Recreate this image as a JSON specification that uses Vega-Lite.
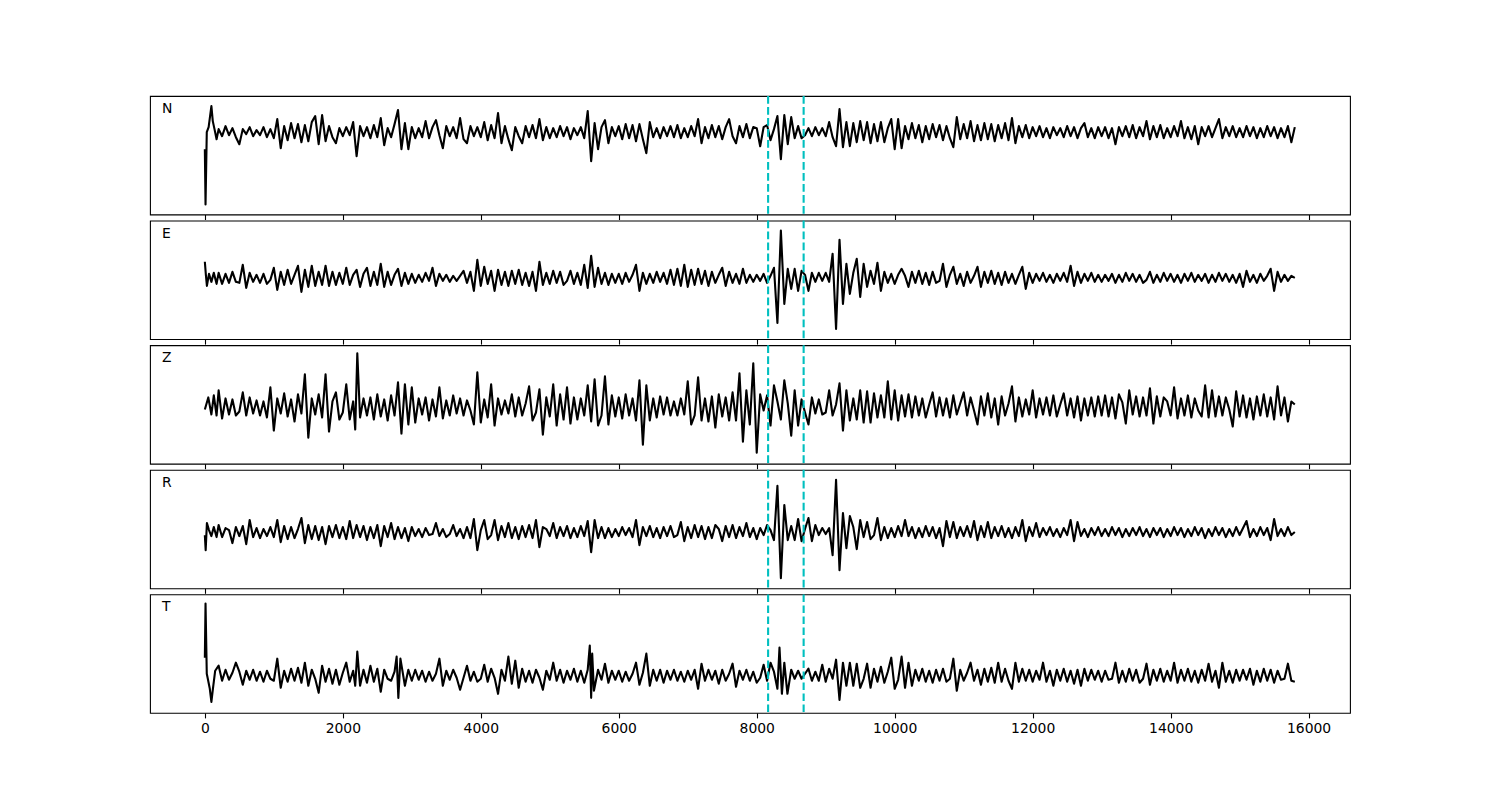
{
"$schema":"https://vega.github.io/schema/vega-lite/v6.json",
"padding":{"left":149,"top":94,"right":10,"bottom":10},
"bounds":"flush",
"spacing":5.6,
"config":{"view":{"stroke":"black","strokeWidth":1.1},"font":"DejaVu Sans","title":{"anchor":"start","frame":"group","orient":"top","offset":-21,"dx":12,"fontSize":13.9,"fontWeight":"normal","font":"DejaVu Sans","color":"black","baseline":"alphabetic"}},
"datasets":{
"picks":[{"t":8165},{"t":8680}],
"N":[{"t":0,"v":-17},{"t":10,"v":-72},{"t":28,"v":0},{"t":55,"v":5},{"t":95,"v":26},{"t":115,"v":11},{"t":140,"v":3},{"t":170,"v":-7},{"t":200,"v":3},{"t":250,"v":-4},{"t":300,"v":6},{"t":350,"v":-3},{"t":400,"v":4},{"t":450,"v":-5},{"t":500,"v":-12},{"t":550,"v":3},{"t":600,"v":-2},{"t":650,"v":5},{"t":700,"v":-4},{"t":750,"v":2},{"t":800,"v":-3},{"t":850,"v":5},{"t":900,"v":-5},{"t":950,"v":3},
{"t":1000,"v":-6},{"t":1050,"v":13},{"t":1100,"v":-16},{"t":1150,"v":6},{"t":1200,"v":-8},{"t":1250,"v":9},{"t":1300,"v":-6},{"t":1350,"v":8},{"t":1400,"v":-10},{"t":1450,"v":7},{"t":1500,"v":-9},{"t":1550,"v":10},{"t":1600,"v":16},{"t":1650,"v":-12},{"t":1700,"v":17},{"t":1750,"v":-9},{"t":1800,"v":6},{"t":1850,"v":-5},{"t":1900,"v":-11},{"t":1950,"v":4},
{"t":2000,"v":-4},{"t":2050,"v":5},{"t":2100,"v":-3},{"t":2150,"v":10},{"t":2200,"v":-24},{"t":2250,"v":6},{"t":2300,"v":-4},{"t":2350,"v":5},{"t":2400,"v":-6},{"t":2450,"v":7},{"t":2500,"v":-5},{"t":2550,"v":14},{"t":2600,"v":-13},{"t":2650,"v":4},{"t":2700,"v":-5},{"t":2750,"v":8},{"t":2800,"v":22},{"t":2850,"v":-17},{"t":2900,"v":9},{"t":2950,"v":-17},
{"t":3000,"v":5},{"t":3050,"v":-6},{"t":3100,"v":4},{"t":3150,"v":-5},{"t":3200,"v":11},{"t":3250,"v":-6},{"t":3300,"v":5},{"t":3350,"v":12},{"t":3400,"v":-3},{"t":3450,"v":-16},{"t":3500,"v":6},{"t":3550,"v":-4},{"t":3600,"v":5},{"t":3650,"v":-6},{"t":3700,"v":14},{"t":3750,"v":-7},{"t":3800,"v":-11},{"t":3850,"v":6},{"t":3900,"v":-4},{"t":3950,"v":5},
{"t":4000,"v":-5},{"t":4050,"v":10},{"t":4100,"v":-8},{"t":4150,"v":7},{"t":4200,"v":-6},{"t":4250,"v":19},{"t":4300,"v":-11},{"t":4350,"v":6},{"t":4400,"v":-7},{"t":4450,"v":-18},{"t":4500,"v":5},{"t":4550,"v":-4},{"t":4600,"v":-11},{"t":4650,"v":6},{"t":4700,"v":-5},{"t":4750,"v":7},{"t":4800,"v":-6},{"t":4850,"v":13},{"t":4900,"v":-8},{"t":4950,"v":5},
{"t":5000,"v":-6},{"t":5050,"v":4},{"t":5100,"v":-5},{"t":5150,"v":6},{"t":5200,"v":-4},{"t":5250,"v":5},{"t":5300,"v":-7},{"t":5350,"v":4},{"t":5400,"v":-3},{"t":5450,"v":5},{"t":5500,"v":-6},{"t":5550,"v":21},{"t":5600,"v":-29},{"t":5650,"v":9},{"t":5700,"v":-17},{"t":5750,"v":5},{"t":5800,"v":12},{"t":5850,"v":-11},{"t":5900,"v":5},{"t":5950,"v":-4},
{"t":6000,"v":6},{"t":6050,"v":-7},{"t":6100,"v":8},{"t":6150,"v":-6},{"t":6200,"v":7},{"t":6250,"v":-9},{"t":6300,"v":8},{"t":6350,"v":-7},{"t":6400,"v":-21},{"t":6450,"v":10},{"t":6500,"v":-5},{"t":6550,"v":4},{"t":6600,"v":-6},{"t":6650,"v":5},{"t":6700,"v":-4},{"t":6750,"v":6},{"t":6800,"v":-5},{"t":6850,"v":7},{"t":6900,"v":-6},{"t":6950,"v":4},
{"t":7000,"v":-5},{"t":7050,"v":6},{"t":7100,"v":-4},{"t":7150,"v":13},{"t":7200,"v":-11},{"t":7250,"v":5},{"t":7300,"v":-6},{"t":7350,"v":7},{"t":7400,"v":-5},{"t":7450,"v":6},{"t":7500,"v":-7},{"t":7550,"v":5},{"t":7600,"v":13},{"t":7650,"v":-4},{"t":7700,"v":-11},{"t":7750,"v":6},{"t":7800,"v":-5},{"t":7850,"v":8},{"t":7900,"v":-6},{"t":7950,"v":5},
{"t":8000,"v":4},{"t":8050,"v":-14},{"t":8100,"v":5},{"t":8150,"v":7},{"t":8200,"v":-8},{"t":8250,"v":3},{"t":8300,"v":16},{"t":8350,"v":-27},{"t":8400,"v":17},{"t":8450,"v":-12},{"t":8500,"v":15},{"t":8550,"v":-6},{"t":8600,"v":6},{"t":8650,"v":-6},{"t":8700,"v":-3},{"t":8750,"v":4},{"t":8800,"v":-4},{"t":8850,"v":5},{"t":8900,"v":-3},{"t":8950,"v":4},
{"t":9000,"v":-4},{"t":9050,"v":10},{"t":9100,"v":-5},{"t":9150,"v":-14},{"t":9200,"v":23},{"t":9250,"v":-15},{"t":9300,"v":10},{"t":9350,"v":-14},{"t":9400,"v":9},{"t":9450,"v":-10},{"t":9500,"v":11},{"t":9550,"v":-8},{"t":9600,"v":10},{"t":9650,"v":-11},{"t":9700,"v":8},{"t":9750,"v":-9},{"t":9800,"v":10},{"t":9850,"v":-10},{"t":9900,"v":4},{"t":9950,"v":13},
{"t":10000,"v":-17},{"t":10050,"v":13},{"t":10100,"v":-16},{"t":10150,"v":6},{"t":10200,"v":-7},{"t":10250,"v":9},{"t":10300,"v":-6},{"t":10350,"v":7},{"t":10400,"v":-10},{"t":10450,"v":6},{"t":10500,"v":-7},{"t":10550,"v":8},{"t":10600,"v":-5},{"t":10650,"v":7},{"t":10700,"v":-8},{"t":10750,"v":6},{"t":10800,"v":-6},{"t":10850,"v":-15},{"t":10900,"v":15},{"t":10950,"v":-7},
{"t":11000,"v":8},{"t":11050,"v":-6},{"t":11100,"v":11},{"t":11150,"v":-9},{"t":11200,"v":7},{"t":11250,"v":-8},{"t":11300,"v":9},{"t":11350,"v":-7},{"t":11400,"v":8},{"t":11450,"v":-9},{"t":11500,"v":7},{"t":11550,"v":-6},{"t":11600,"v":9},{"t":11650,"v":-8},{"t":11700,"v":14},{"t":11750,"v":-11},{"t":11800,"v":6},{"t":11850,"v":-5},{"t":11900,"v":7},{"t":11950,"v":-6},
{"t":12000,"v":5},{"t":12050,"v":-4},{"t":12100,"v":6},{"t":12150,"v":-5},{"t":12200,"v":4},{"t":12250,"v":-6},{"t":12300,"v":5},{"t":12350,"v":-3},{"t":12400,"v":4},{"t":12450,"v":-5},{"t":12500,"v":6},{"t":12550,"v":-4},{"t":12600,"v":5},{"t":12650,"v":-6},{"t":12700,"v":4},{"t":12750,"v":9},{"t":12800,"v":-5},{"t":12850,"v":4},{"t":12900,"v":-6},{"t":12950,"v":5},
{"t":13000,"v":-4},{"t":13050,"v":5},{"t":13100,"v":-6},{"t":13150,"v":4},{"t":13200,"v":-12},{"t":13250,"v":5},{"t":13300,"v":-4},{"t":13350,"v":6},{"t":13400,"v":-5},{"t":13450,"v":7},{"t":13500,"v":-6},{"t":13550,"v":5},{"t":13600,"v":-4},{"t":13650,"v":11},{"t":13700,"v":-7},{"t":13750,"v":6},{"t":13800,"v":-5},{"t":13850,"v":7},{"t":13900,"v":-6},{"t":13950,"v":4},
{"t":14000,"v":-5},{"t":14050,"v":6},{"t":14100,"v":-4},{"t":14150,"v":11},{"t":14200,"v":-6},{"t":14250,"v":5},{"t":14300,"v":-7},{"t":14350,"v":6},{"t":14400,"v":-12},{"t":14450,"v":5},{"t":14500,"v":-4},{"t":14550,"v":6},{"t":14600,"v":-5},{"t":14650,"v":4},{"t":14700,"v":13},{"t":14750,"v":-6},{"t":14800,"v":5},{"t":14850,"v":-4},{"t":14900,"v":6},{"t":14950,"v":-5},
{"t":15000,"v":4},{"t":15050,"v":-5},{"t":15100,"v":6},{"t":15150,"v":-4},{"t":15200,"v":5},{"t":15250,"v":-6},{"t":15300,"v":4},{"t":15350,"v":-5},{"t":15400,"v":6},{"t":15450,"v":-4},{"t":15500,"v":5},{"t":15550,"v":-6},{"t":15600,"v":4},{"t":15650,"v":-5},{"t":15700,"v":6},{"t":15750,"v":-10},{"t":15800,"v":5}],
"E":[{"t":0,"v":16},{"t":15,"v":3},{"t":30,"v":-8},{"t":60,"v":4},{"t":95,"v":-4},{"t":130,"v":5},{"t":170,"v":-6},{"t":200,"v":5},{"t":250,"v":-6},{"t":300,"v":4},{"t":350,"v":-5},{"t":400,"v":6},{"t":450,"v":-4},{"t":500,"v":-5},{"t":550,"v":13},{"t":600,"v":-10},{"t":650,"v":5},{"t":700,"v":-4},{"t":750,"v":3},{"t":800,"v":-5},{"t":850,"v":4},{"t":900,"v":-6},{"t":950,"v":-2},
{"t":1000,"v":10},{"t":1050,"v":-12},{"t":1100,"v":6},{"t":1150,"v":-7},{"t":1200,"v":8},{"t":1250,"v":-6},{"t":1300,"v":3},{"t":1350,"v":12},{"t":1400,"v":-14},{"t":1450,"v":8},{"t":1500,"v":-9},{"t":1550,"v":12},{"t":1600,"v":-8},{"t":1650,"v":6},{"t":1700,"v":-7},{"t":1750,"v":12},{"t":1800,"v":-8},{"t":1850,"v":6},{"t":1900,"v":-7},{"t":1950,"v":5},
{"t":2000,"v":-6},{"t":2050,"v":10},{"t":2100,"v":-7},{"t":2150,"v":3},{"t":2200,"v":8},{"t":2250,"v":-9},{"t":2300,"v":4},{"t":2350,"v":10},{"t":2400,"v":-8},{"t":2450,"v":6},{"t":2500,"v":-7},{"t":2550,"v":14},{"t":2600,"v":-9},{"t":2650,"v":6},{"t":2700,"v":-7},{"t":2750,"v":3},{"t":2800,"v":9},{"t":2850,"v":-8},{"t":2900,"v":5},{"t":2950,"v":-6},
{"t":3000,"v":4},{"t":3050,"v":-5},{"t":3100,"v":3},{"t":3150,"v":-4},{"t":3200,"v":5},{"t":3250,"v":-3},{"t":3300,"v":10},{"t":3350,"v":-8},{"t":3400,"v":4},{"t":3450,"v":-3},{"t":3500,"v":3},{"t":3550,"v":-4},{"t":3600,"v":2},{"t":3650,"v":-3},{"t":3700,"v":2},{"t":3750,"v":7},{"t":3800,"v":-5},{"t":3850,"v":6},{"t":3900,"v":-13},{"t":3950,"v":18},
{"t":4000,"v":-8},{"t":4050,"v":11},{"t":4100,"v":-6},{"t":4150,"v":7},{"t":4200,"v":-13},{"t":4250,"v":8},{"t":4300,"v":-7},{"t":4350,"v":6},{"t":4400,"v":-8},{"t":4450,"v":7},{"t":4500,"v":-6},{"t":4550,"v":8},{"t":4600,"v":-7},{"t":4650,"v":5},{"t":4700,"v":-8},{"t":4750,"v":6},{"t":4800,"v":-13},{"t":4850,"v":16},{"t":4900,"v":-7},{"t":4950,"v":5},
{"t":5000,"v":-6},{"t":5050,"v":7},{"t":5100,"v":-5},{"t":5150,"v":6},{"t":5200,"v":-7},{"t":5250,"v":-3},{"t":5300,"v":7},{"t":5350,"v":-6},{"t":5400,"v":5},{"t":5450,"v":-7},{"t":5500,"v":13},{"t":5550,"v":-10},{"t":5600,"v":22},{"t":5650,"v":-9},{"t":5700,"v":10},{"t":5750,"v":-6},{"t":5800,"v":5},{"t":5850,"v":-7},{"t":5900,"v":4},{"t":5950,"v":-5},
{"t":6000,"v":4},{"t":6050,"v":-6},{"t":6100,"v":5},{"t":6150,"v":-4},{"t":6200,"v":3},{"t":6250,"v":13},{"t":6300,"v":-13},{"t":6350,"v":5},{"t":6400,"v":-6},{"t":6450,"v":4},{"t":6500,"v":-5},{"t":6550,"v":6},{"t":6600,"v":-4},{"t":6650,"v":5},{"t":6700,"v":-6},{"t":6750,"v":8},{"t":6800,"v":-7},{"t":6850,"v":9},{"t":6900,"v":-8},{"t":6950,"v":13},
{"t":7000,"v":-9},{"t":7050,"v":8},{"t":7100,"v":-7},{"t":7150,"v":9},{"t":7200,"v":-6},{"t":7250,"v":7},{"t":7300,"v":-8},{"t":7350,"v":6},{"t":7400,"v":-5},{"t":7450,"v":3},{"t":7500,"v":10},{"t":7550,"v":-8},{"t":7600,"v":6},{"t":7650,"v":-5},{"t":7700,"v":4},{"t":7750,"v":-6},{"t":7800,"v":9},{"t":7850,"v":-5},{"t":7900,"v":3},{"t":7950,"v":-4},
{"t":8000,"v":3},{"t":8050,"v":-3},{"t":8100,"v":4},{"t":8150,"v":-5},{"t":8200,"v":2},{"t":8250,"v":10},{"t":8300,"v":-45},{"t":8350,"v":47},{"t":8400,"v":-26},{"t":8450,"v":9},{"t":8500,"v":-11},{"t":8550,"v":9},{"t":8600,"v":-13},{"t":8650,"v":7},{"t":8700,"v":3},{"t":8750,"v":-13},{"t":8800,"v":5},{"t":8850,"v":-4},{"t":8900,"v":5},{"t":8950,"v":-3},
{"t":9000,"v":5},{"t":9050,"v":-4},{"t":9100,"v":24},{"t":9150,"v":-51},{"t":9200,"v":38},{"t":9250,"v":-26},{"t":9300,"v":14},{"t":9350,"v":-16},{"t":9400,"v":5},{"t":9450,"v":19},{"t":9500,"v":-19},{"t":9550,"v":14},{"t":9600,"v":-9},{"t":9650,"v":7},{"t":9700,"v":-6},{"t":9750,"v":15},{"t":9800,"v":-13},{"t":9850,"v":6},{"t":9900,"v":-5},{"t":9950,"v":4},
{"t":10000,"v":-6},{"t":10050,"v":3},{"t":10100,"v":9},{"t":10150,"v":2},{"t":10200,"v":-9},{"t":10250,"v":6},{"t":10300,"v":-5},{"t":10350,"v":7},{"t":10400,"v":-6},{"t":10450,"v":5},{"t":10500,"v":-7},{"t":10550,"v":6},{"t":10600,"v":-5},{"t":10650,"v":-3},{"t":10700,"v":14},{"t":10750,"v":-9},{"t":10800,"v":3},{"t":10850,"v":11},{"t":10900,"v":-6},{"t":10950,"v":4},
{"t":11000,"v":-8},{"t":11050,"v":6},{"t":11100,"v":-5},{"t":11150,"v":2},{"t":11200,"v":11},{"t":11250,"v":-9},{"t":11300,"v":6},{"t":11350,"v":-5},{"t":11400,"v":7},{"t":11450,"v":-6},{"t":11500,"v":5},{"t":11550,"v":-7},{"t":11600,"v":6},{"t":11650,"v":-5},{"t":11700,"v":4},{"t":11750,"v":-6},{"t":11800,"v":3},{"t":11850,"v":11},{"t":11900,"v":-11},{"t":11950,"v":5},
{"t":12000,"v":-5},{"t":12050,"v":4},{"t":12100,"v":-3},{"t":12150,"v":5},{"t":12200,"v":-4},{"t":12250,"v":3},{"t":12300,"v":-5},{"t":12350,"v":4},{"t":12400,"v":-3},{"t":12450,"v":5},{"t":12500,"v":-4},{"t":12550,"v":12},{"t":12600,"v":-8},{"t":12650,"v":6},{"t":12700,"v":-5},{"t":12750,"v":4},{"t":12800,"v":-3},{"t":12850,"v":5},{"t":12900,"v":-4},{"t":12950,"v":3},
{"t":13000,"v":-4},{"t":13050,"v":3},{"t":13100,"v":-3},{"t":13150,"v":4},{"t":13200,"v":-5},{"t":13250,"v":3},{"t":13300,"v":-4},{"t":13350,"v":5},{"t":13400,"v":-3},{"t":13450,"v":4},{"t":13500,"v":-4},{"t":13550,"v":3},{"t":13600,"v":-5},{"t":13650,"v":-2},{"t":13700,"v":6},{"t":13750,"v":-5},{"t":13800,"v":3},{"t":13850,"v":-4},{"t":13900,"v":5},{"t":13950,"v":-3},
{"t":14000,"v":4},{"t":14050,"v":-4},{"t":14100,"v":3},{"t":14150,"v":-5},{"t":14200,"v":4},{"t":14250,"v":-3},{"t":14300,"v":5},{"t":14350,"v":-4},{"t":14400,"v":3},{"t":14450,"v":-3},{"t":14500,"v":4},{"t":14550,"v":-5},{"t":14600,"v":3},{"t":14650,"v":-4},{"t":14700,"v":5},{"t":14750,"v":-3},{"t":14800,"v":4},{"t":14850,"v":-4},{"t":14900,"v":3},{"t":14950,"v":-5},
{"t":15000,"v":4},{"t":15050,"v":-9},{"t":15100,"v":7},{"t":15150,"v":-4},{"t":15200,"v":3},{"t":15250,"v":-5},{"t":15300,"v":4},{"t":15350,"v":-3},{"t":15400,"v":2},{"t":15450,"v":9},{"t":15500,"v":-13},{"t":15550,"v":6},{"t":15600,"v":-4},{"t":15650,"v":3},{"t":15700,"v":-3},{"t":15750,"v":2},{"t":15800,"v":0}],
"Z":[{"t":0,"v":-2},{"t":50,"v":10},{"t":95,"v":-7},{"t":130,"v":12},{"t":170,"v":-8},{"t":200,"v":17},{"t":250,"v":-11},{"t":300,"v":9},{"t":350,"v":-7},{"t":400,"v":8},{"t":450,"v":-8},{"t":500,"v":-4},{"t":550,"v":15},{"t":600,"v":-8},{"t":650,"v":10},{"t":700,"v":-6},{"t":750,"v":7},{"t":800,"v":-8},{"t":850,"v":6},{"t":900,"v":-10},{"t":950,"v":20},
{"t":1000,"v":-23},{"t":1050,"v":9},{"t":1100,"v":-6},{"t":1150,"v":14},{"t":1200,"v":-9},{"t":1250,"v":8},{"t":1300,"v":-14},{"t":1350,"v":13},{"t":1400,"v":-6},{"t":1450,"v":33},{"t":1500,"v":-30},{"t":1550,"v":9},{"t":1600,"v":-7},{"t":1650,"v":13},{"t":1700,"v":-10},{"t":1750,"v":33},{"t":1800,"v":-24},{"t":1850,"v":6},{"t":1900,"v":15},{"t":1950,"v":-12},
{"t":2000,"v":-5},{"t":2050,"v":23},{"t":2100,"v":-12},{"t":2150,"v":6},{"t":2180,"v":-22},{"t":2210,"v":54},{"t":2250,"v":-10},{"t":2300,"v":9},{"t":2350,"v":-8},{"t":2400,"v":10},{"t":2450,"v":-12},{"t":2500,"v":13},{"t":2550,"v":-9},{"t":2600,"v":8},{"t":2650,"v":-13},{"t":2700,"v":12},{"t":2750,"v":-8},{"t":2800,"v":25},{"t":2850,"v":-26},{"t":2900,"v":23},{"t":2950,"v":-17},
{"t":3000,"v":20},{"t":3050,"v":-15},{"t":3100,"v":9},{"t":3150,"v":-7},{"t":3200,"v":10},{"t":3250,"v":-13},{"t":3300,"v":8},{"t":3350,"v":-9},{"t":3400,"v":20},{"t":3450,"v":-11},{"t":3500,"v":7},{"t":3550,"v":-8},{"t":3600,"v":12},{"t":3650,"v":-6},{"t":3700,"v":9},{"t":3750,"v":-8},{"t":3800,"v":7},{"t":3850,"v":-3},{"t":3900,"v":-17},{"t":3950,"v":35},
{"t":4000,"v":-15},{"t":4050,"v":8},{"t":4100,"v":-10},{"t":4150,"v":23},{"t":4200,"v":-18},{"t":4250,"v":9},{"t":4300,"v":-7},{"t":4350,"v":7},{"t":4400,"v":-6},{"t":4450,"v":13},{"t":4500,"v":-9},{"t":4550,"v":10},{"t":4600,"v":-8},{"t":4650,"v":4},{"t":4700,"v":21},{"t":4750,"v":-13},{"t":4800,"v":-5},{"t":4850,"v":18},{"t":4900,"v":-27},{"t":4950,"v":10},
{"t":5000,"v":-9},{"t":5050,"v":23},{"t":5100,"v":-18},{"t":5150,"v":13},{"t":5200,"v":-12},{"t":5250,"v":20},{"t":5300,"v":-16},{"t":5350,"v":10},{"t":5400,"v":-12},{"t":5450,"v":9},{"t":5500,"v":-8},{"t":5550,"v":22},{"t":5600,"v":-14},{"t":5650,"v":28},{"t":5700,"v":-18},{"t":5750,"v":-8},{"t":5800,"v":31},{"t":5850,"v":-17},{"t":5900,"v":12},{"t":5950,"v":-9},
{"t":6000,"v":10},{"t":6050,"v":-11},{"t":6100,"v":13},{"t":6150,"v":-8},{"t":6200,"v":9},{"t":6250,"v":-13},{"t":6300,"v":27},{"t":6350,"v":-37},{"t":6400,"v":22},{"t":6450,"v":-13},{"t":6500,"v":9},{"t":6550,"v":-10},{"t":6600,"v":11},{"t":6650,"v":-7},{"t":6700,"v":10},{"t":6750,"v":-8},{"t":6800,"v":6},{"t":6850,"v":-8},{"t":6900,"v":9},{"t":6950,"v":-7},
{"t":7000,"v":26},{"t":7050,"v":-17},{"t":7100,"v":-8},{"t":7150,"v":30},{"t":7200,"v":-13},{"t":7250,"v":9},{"t":7300,"v":-14},{"t":7350,"v":11},{"t":7400,"v":-20},{"t":7450,"v":13},{"t":7500,"v":-9},{"t":7550,"v":10},{"t":7600,"v":-13},{"t":7650,"v":15},{"t":7700,"v":-13},{"t":7750,"v":34},{"t":7800,"v":-34},{"t":7850,"v":17},{"t":7900,"v":-17},{"t":7950,"v":44},
{"t":8000,"v":-45},{"t":8050,"v":13},{"t":8100,"v":-3},{"t":8150,"v":12},{"t":8200,"v":-18},{"t":8250,"v":22},{"t":8300,"v":6},{"t":8350,"v":-12},{"t":8400,"v":27},{"t":8450,"v":4},{"t":8500,"v":-28},{"t":8550,"v":17},{"t":8600,"v":-18},{"t":8650,"v":8},{"t":8700,"v":-5},{"t":8750,"v":-17},{"t":8800,"v":10},{"t":8850,"v":-6},{"t":8900,"v":8},{"t":8950,"v":-7},
{"t":9000,"v":-5},{"t":9050,"v":17},{"t":9100,"v":-8},{"t":9150,"v":3},{"t":9200,"v":24},{"t":9250,"v":-23},{"t":9300,"v":17},{"t":9350,"v":-13},{"t":9400,"v":9},{"t":9450,"v":-12},{"t":9500,"v":17},{"t":9550,"v":-15},{"t":9600,"v":16},{"t":9650,"v":-15},{"t":9700,"v":14},{"t":9750,"v":-10},{"t":9800,"v":12},{"t":9850,"v":-10},{"t":9900,"v":26},{"t":9950,"v":-12},
{"t":10000,"v":17},{"t":10050,"v":-13},{"t":10100,"v":12},{"t":10150,"v":-9},{"t":10200,"v":13},{"t":10250,"v":-10},{"t":10300,"v":11},{"t":10350,"v":-8},{"t":10400,"v":9},{"t":10450,"v":-10},{"t":10500,"v":3},{"t":10550,"v":15},{"t":10600,"v":-9},{"t":10650,"v":10},{"t":10700,"v":-8},{"t":10750,"v":9},{"t":10800,"v":-10},{"t":10850,"v":12},{"t":10900,"v":-7},{"t":10950,"v":4},
{"t":11000,"v":15},{"t":11050,"v":-8},{"t":11100,"v":10},{"t":11150,"v":-3},{"t":11200,"v":-17},{"t":11250,"v":11},{"t":11300,"v":-8},{"t":11350,"v":14},{"t":11400,"v":-10},{"t":11450,"v":9},{"t":11500,"v":-17},{"t":11550,"v":11},{"t":11600,"v":-8},{"t":11650,"v":4},{"t":11700,"v":21},{"t":11750,"v":-14},{"t":11800,"v":10},{"t":11850,"v":-9},{"t":11900,"v":8},{"t":11950,"v":-7},
{"t":12000,"v":17},{"t":12050,"v":-10},{"t":12100,"v":9},{"t":12150,"v":-7},{"t":12200,"v":10},{"t":12250,"v":-8},{"t":12300,"v":12},{"t":12350,"v":-9},{"t":12400,"v":3},{"t":12450,"v":14},{"t":12500,"v":-8},{"t":12550,"v":9},{"t":12600,"v":-10},{"t":12650,"v":11},{"t":12700,"v":-13},{"t":12750,"v":9},{"t":12800,"v":-8},{"t":12850,"v":10},{"t":12900,"v":-9},{"t":12950,"v":11},
{"t":13000,"v":-8},{"t":13050,"v":12},{"t":13100,"v":-9},{"t":13150,"v":10},{"t":13200,"v":-11},{"t":13250,"v":13},{"t":13300,"v":5},{"t":13350,"v":-16},{"t":13400,"v":17},{"t":13450,"v":-7},{"t":13500,"v":11},{"t":13550,"v":-9},{"t":13600,"v":10},{"t":13650,"v":-8},{"t":13700,"v":19},{"t":13750,"v":-16},{"t":13800,"v":11},{"t":13850,"v":-9},{"t":13900,"v":10},{"t":13950,"v":6},
{"t":14000,"v":-8},{"t":14050,"v":20},{"t":14100,"v":-11},{"t":14150,"v":9},{"t":14200,"v":-8},{"t":14250,"v":12},{"t":14300,"v":-10},{"t":14350,"v":9},{"t":14400,"v":-3},{"t":14450,"v":-9},{"t":14500,"v":22},{"t":14550,"v":-10},{"t":14600,"v":17},{"t":14650,"v":-9},{"t":14700,"v":11},{"t":14750,"v":-8},{"t":14800,"v":10},{"t":14850,"v":-2},{"t":14900,"v":-19},{"t":14950,"v":16},
{"t":15000,"v":-9},{"t":15050,"v":12},{"t":15100,"v":-10},{"t":15150,"v":9},{"t":15200,"v":-12},{"t":15250,"v":11},{"t":15300,"v":-8},{"t":15350,"v":13},{"t":15400,"v":-9},{"t":15450,"v":10},{"t":15500,"v":-12},{"t":15550,"v":21},{"t":15600,"v":-8},{"t":15650,"v":10},{"t":15700,"v":-14},{"t":15750,"v":6},{"t":15800,"v":3}],
"R":[{"t":0,"v":-3},{"t":12,"v":-18},{"t":30,"v":9},{"t":60,"v":2},{"t":95,"v":-4},{"t":130,"v":5},{"t":170,"v":-5},{"t":200,"v":7},{"t":250,"v":-5},{"t":300,"v":4},{"t":350,"v":2},{"t":400,"v":-11},{"t":450,"v":5},{"t":500,"v":-4},{"t":550,"v":6},{"t":600,"v":-12},{"t":650,"v":12},{"t":700,"v":-5},{"t":750,"v":4},{"t":800,"v":-6},{"t":850,"v":3},{"t":900,"v":-4},{"t":950,"v":5},
{"t":1000,"v":-5},{"t":1050,"v":12},{"t":1100,"v":-10},{"t":1150,"v":6},{"t":1200,"v":-7},{"t":1250,"v":5},{"t":1300,"v":-6},{"t":1350,"v":3},{"t":1400,"v":14},{"t":1450,"v":-11},{"t":1500,"v":7},{"t":1550,"v":-7},{"t":1600,"v":6},{"t":1650,"v":-8},{"t":1700,"v":5},{"t":1750,"v":-12},{"t":1800,"v":6},{"t":1850,"v":-5},{"t":1900,"v":7},{"t":1950,"v":-6},
{"t":2000,"v":5},{"t":2050,"v":-7},{"t":2100,"v":11},{"t":2150,"v":-6},{"t":2200,"v":7},{"t":2250,"v":-5},{"t":2300,"v":6},{"t":2350,"v":-8},{"t":2400,"v":5},{"t":2450,"v":-6},{"t":2500,"v":7},{"t":2550,"v":-14},{"t":2600,"v":6},{"t":2650,"v":-5},{"t":2700,"v":9},{"t":2750,"v":-7},{"t":2800,"v":5},{"t":2850,"v":-6},{"t":2900,"v":4},{"t":2950,"v":-9},
{"t":3000,"v":5},{"t":3050,"v":-4},{"t":3100,"v":3},{"t":3150,"v":-5},{"t":3200,"v":4},{"t":3250,"v":-3},{"t":3300,"v":-2},{"t":3350,"v":9},{"t":3400,"v":-4},{"t":3450,"v":3},{"t":3500,"v":-5},{"t":3550,"v":-2},{"t":3600,"v":7},{"t":3650,"v":-4},{"t":3700,"v":3},{"t":3750,"v":-6},{"t":3800,"v":5},{"t":3850,"v":-6},{"t":3900,"v":13},{"t":3950,"v":-18},
{"t":4000,"v":2},{"t":4050,"v":12},{"t":4100,"v":-7},{"t":4150,"v":-3},{"t":4200,"v":12},{"t":4250,"v":-8},{"t":4300,"v":6},{"t":4350,"v":-5},{"t":4400,"v":9},{"t":4450,"v":-6},{"t":4500,"v":5},{"t":4550,"v":-7},{"t":4600,"v":6},{"t":4650,"v":-5},{"t":4700,"v":7},{"t":4750,"v":-6},{"t":4800,"v":12},{"t":4850,"v":-15},{"t":4900,"v":5},{"t":4950,"v":3},
{"t":5000,"v":-4},{"t":5050,"v":9},{"t":5100,"v":-6},{"t":5150,"v":5},{"t":5200,"v":-4},{"t":5250,"v":6},{"t":5300,"v":-6},{"t":5350,"v":4},{"t":5400,"v":-5},{"t":5450,"v":6},{"t":5500,"v":-4},{"t":5550,"v":11},{"t":5600,"v":-20},{"t":5650,"v":12},{"t":5700,"v":-6},{"t":5750,"v":5},{"t":5800,"v":-6},{"t":5850,"v":4},{"t":5900,"v":-5},{"t":5950,"v":3},
{"t":6000,"v":-4},{"t":6050,"v":5},{"t":6100,"v":-3},{"t":6150,"v":4},{"t":6200,"v":-5},{"t":6250,"v":12},{"t":6300,"v":-13},{"t":6350,"v":5},{"t":6400,"v":-4},{"t":6450,"v":6},{"t":6500,"v":-5},{"t":6550,"v":4},{"t":6600,"v":-6},{"t":6650,"v":5},{"t":6700,"v":-4},{"t":6750,"v":6},{"t":6800,"v":-5},{"t":6850,"v":-3},{"t":6900,"v":10},{"t":6950,"v":-9},
{"t":7000,"v":5},{"t":7050,"v":-6},{"t":7100,"v":7},{"t":7150,"v":-5},{"t":7200,"v":6},{"t":7250,"v":-7},{"t":7300,"v":5},{"t":7350,"v":-6},{"t":7400,"v":7},{"t":7450,"v":3},{"t":7500,"v":-9},{"t":7550,"v":6},{"t":7600,"v":-5},{"t":7650,"v":7},{"t":7700,"v":-6},{"t":7750,"v":5},{"t":7800,"v":-4},{"t":7850,"v":9},{"t":7900,"v":-5},{"t":7950,"v":4},
{"t":8000,"v":-7},{"t":8050,"v":4},{"t":8100,"v":-3},{"t":8150,"v":7},{"t":8200,"v":2},{"t":8250,"v":-8},{"t":8300,"v":46},{"t":8350,"v":-46},{"t":8400,"v":27},{"t":8450,"v":-8},{"t":8500,"v":6},{"t":8550,"v":-8},{"t":8600,"v":13},{"t":8650,"v":-9},{"t":8700,"v":3},{"t":8750,"v":14},{"t":8800,"v":-9},{"t":8850,"v":7},{"t":8900,"v":-3},{"t":8950,"v":4},
{"t":9000,"v":-2},{"t":9050,"v":4},{"t":9100,"v":-23},{"t":9150,"v":52},{"t":9200,"v":-38},{"t":9250,"v":19},{"t":9300,"v":-16},{"t":9350,"v":16},{"t":9400,"v":5},{"t":9450,"v":-17},{"t":9500,"v":12},{"t":9550,"v":-5},{"t":9600,"v":10},{"t":9650,"v":-7},{"t":9700,"v":-3},{"t":9750,"v":14},{"t":9800,"v":-8},{"t":9850,"v":5},{"t":9900,"v":-6},{"t":9950,"v":4},
{"t":10000,"v":-5},{"t":10050,"v":6},{"t":10100,"v":-4},{"t":10150,"v":12},{"t":10200,"v":-4},{"t":10250,"v":5},{"t":10300,"v":-6},{"t":10350,"v":4},{"t":10400,"v":-5},{"t":10450,"v":6},{"t":10500,"v":-4},{"t":10550,"v":5},{"t":10600,"v":-6},{"t":10650,"v":4},{"t":10700,"v":-14},{"t":10750,"v":11},{"t":10800,"v":-5},{"t":10850,"v":10},{"t":10900,"v":-6},{"t":10950,"v":5},
{"t":11000,"v":-4},{"t":11050,"v":6},{"t":11100,"v":-5},{"t":11150,"v":11},{"t":11200,"v":-8},{"t":11250,"v":6},{"t":11300,"v":-5},{"t":11350,"v":10},{"t":11400,"v":-6},{"t":11450,"v":5},{"t":11500,"v":-4},{"t":11550,"v":6},{"t":11600,"v":-5},{"t":11650,"v":4},{"t":11700,"v":-6},{"t":11750,"v":5},{"t":11800,"v":-4},{"t":11850,"v":12},{"t":11900,"v":-9},{"t":11950,"v":5},
{"t":12000,"v":-4},{"t":12050,"v":9},{"t":12100,"v":-5},{"t":12150,"v":4},{"t":12200,"v":-3},{"t":12250,"v":5},{"t":12300,"v":-4},{"t":12350,"v":3},{"t":12400,"v":-5},{"t":12450,"v":4},{"t":12500,"v":-3},{"t":12550,"v":12},{"t":12600,"v":-9},{"t":12650,"v":10},{"t":12700,"v":-4},{"t":12750,"v":3},{"t":12800,"v":-5},{"t":12850,"v":4},{"t":12900,"v":-3},{"t":12950,"v":5},
{"t":13000,"v":-4},{"t":13050,"v":3},{"t":13100,"v":-4},{"t":13150,"v":5},{"t":13200,"v":-3},{"t":13250,"v":4},{"t":13300,"v":-5},{"t":13350,"v":3},{"t":13400,"v":-4},{"t":13450,"v":4},{"t":13500,"v":-3},{"t":13550,"v":5},{"t":13600,"v":-4},{"t":13650,"v":3},{"t":13700,"v":-5},{"t":13750,"v":4},{"t":13800,"v":-3},{"t":13850,"v":4},{"t":13900,"v":-5},{"t":13950,"v":3},
{"t":14000,"v":-4},{"t":14050,"v":5},{"t":14100,"v":-3},{"t":14150,"v":4},{"t":14200,"v":-5},{"t":14250,"v":3},{"t":14300,"v":-4},{"t":14350,"v":5},{"t":14400,"v":-3},{"t":14450,"v":4},{"t":14500,"v":-6},{"t":14550,"v":3},{"t":14600,"v":-4},{"t":14650,"v":5},{"t":14700,"v":-3},{"t":14750,"v":4},{"t":14800,"v":-5},{"t":14850,"v":3},{"t":14900,"v":-4},{"t":14950,"v":5},
{"t":15000,"v":-3},{"t":15050,"v":4},{"t":15100,"v":11},{"t":15150,"v":-5},{"t":15200,"v":3},{"t":15250,"v":-4},{"t":15300,"v":5},{"t":15350,"v":-3},{"t":15400,"v":4},{"t":15450,"v":-8},{"t":15500,"v":13},{"t":15550,"v":-4},{"t":15600,"v":3},{"t":15650,"v":-4},{"t":15700,"v":5},{"t":15750,"v":-3},{"t":15800,"v":0}],
"T":[{"t":0,"v":18},{"t":10,"v":72},{"t":28,"v":2},{"t":40,"v":-2},{"t":72,"v":-13},{"t":95,"v":-26},{"t":117,"v":-13},{"t":150,"v":5},{"t":200,"v":10},{"t":250,"v":-5},{"t":300,"v":6},{"t":350,"v":-4},{"t":400,"v":3},{"t":450,"v":13},{"t":500,"v":4},{"t":550,"v":-9},{"t":600,"v":5},{"t":650,"v":-4},{"t":700,"v":6},{"t":750,"v":-5},{"t":800,"v":4},{"t":850,"v":-6},{"t":900,"v":5},{"t":950,"v":-3},
{"t":1000,"v":-5},{"t":1050,"v":17},{"t":1100,"v":-12},{"t":1150,"v":5},{"t":1200,"v":-6},{"t":1250,"v":7},{"t":1300,"v":-5},{"t":1350,"v":8},{"t":1400,"v":-7},{"t":1450,"v":13},{"t":1500,"v":-10},{"t":1550,"v":6},{"t":1600,"v":-3},{"t":1650,"v":-17},{"t":1700,"v":10},{"t":1750,"v":-6},{"t":1800,"v":7},{"t":1850,"v":-8},{"t":1900,"v":6},{"t":1950,"v":-9},
{"t":2000,"v":3},{"t":2050,"v":13},{"t":2100,"v":-6},{"t":2150,"v":5},{"t":2180,"v":-10},{"t":2210,"v":24},{"t":2250,"v":-10},{"t":2300,"v":6},{"t":2350,"v":-7},{"t":2400,"v":10},{"t":2450,"v":-6},{"t":2500,"v":7},{"t":2550,"v":-16},{"t":2600,"v":6},{"t":2650,"v":-3},{"t":2700,"v":-5},{"t":2750,"v":4},{"t":2780,"v":19},{"t":2805,"v":-22},{"t":2835,"v":17},{"t":2900,"v":-10},{"t":2950,"v":6},
{"t":3000,"v":-5},{"t":3050,"v":6},{"t":3100,"v":-4},{"t":3150,"v":5},{"t":3200,"v":-6},{"t":3250,"v":4},{"t":3300,"v":-5},{"t":3350,"v":2},{"t":3400,"v":17},{"t":3450,"v":-10},{"t":3500,"v":5},{"t":3550,"v":-4},{"t":3600,"v":6},{"t":3650,"v":-2},{"t":3700,"v":-14},{"t":3750,"v":-2},{"t":3800,"v":10},{"t":3850,"v":-5},{"t":3900,"v":4},{"t":3950,"v":-6},
{"t":4000,"v":-3},{"t":4050,"v":11},{"t":4100,"v":-6},{"t":4150,"v":7},{"t":4200,"v":-2},{"t":4250,"v":-18},{"t":4300,"v":6},{"t":4350,"v":-5},{"t":4400,"v":19},{"t":4450,"v":-8},{"t":4500,"v":15},{"t":4550,"v":-12},{"t":4600,"v":7},{"t":4650,"v":-6},{"t":4700,"v":5},{"t":4750,"v":-7},{"t":4800,"v":6},{"t":4850,"v":-2},{"t":4900,"v":-14},{"t":4950,"v":5},
{"t":5000,"v":-4},{"t":5050,"v":13},{"t":5100,"v":-5},{"t":5150,"v":6},{"t":5200,"v":-7},{"t":5250,"v":5},{"t":5300,"v":-4},{"t":5350,"v":7},{"t":5400,"v":-6},{"t":5450,"v":5},{"t":5500,"v":-7},{"t":5550,"v":6},{"t":5580,"v":30},{"t":5600,"v":-22},{"t":5615,"v":22},{"t":5640,"v":-15},{"t":5700,"v":6},{"t":5750,"v":-4},{"t":5800,"v":12},{"t":5850,"v":-7},{"t":5900,"v":5},{"t":5950,"v":-4},
{"t":6000,"v":5},{"t":6050,"v":-6},{"t":6100,"v":4},{"t":6150,"v":-5},{"t":6200,"v":2},{"t":6250,"v":13},{"t":6300,"v":-9},{"t":6350,"v":3},{"t":6400,"v":22},{"t":6450,"v":-10},{"t":6500,"v":6},{"t":6550,"v":-5},{"t":6600,"v":6},{"t":6650,"v":-7},{"t":6700,"v":5},{"t":6750,"v":-4},{"t":6800,"v":6},{"t":6850,"v":-5},{"t":6900,"v":4},{"t":6950,"v":-6},
{"t":7000,"v":5},{"t":7050,"v":-4},{"t":7100,"v":6},{"t":7150,"v":-13},{"t":7200,"v":12},{"t":7250,"v":-5},{"t":7300,"v":6},{"t":7350,"v":-4},{"t":7400,"v":5},{"t":7450,"v":-8},{"t":7500,"v":6},{"t":7550,"v":-5},{"t":7600,"v":2},{"t":7650,"v":12},{"t":7700,"v":-11},{"t":7750,"v":5},{"t":7800,"v":-4},{"t":7850,"v":6},{"t":7900,"v":-5},{"t":7950,"v":4},
{"t":8000,"v":-7},{"t":8050,"v":-2},{"t":8100,"v":11},{"t":8150,"v":-5},{"t":8200,"v":13},{"t":8250,"v":4},{"t":8300,"v":-13},{"t":8330,"v":28},{"t":8365,"v":-18},{"t":8400,"v":13},{"t":8445,"v":-18},{"t":8500,"v":6},{"t":8550,"v":-3},{"t":8600,"v":5},{"t":8650,"v":-3},{"t":8700,"v":2},{"t":8750,"v":7},{"t":8800,"v":-5},{"t":8850,"v":4},{"t":8900,"v":-5},{"t":8950,"v":11},
{"t":9000,"v":-6},{"t":9050,"v":7},{"t":9100,"v":-3},{"t":9150,"v":16},{"t":9200,"v":-24},{"t":9250,"v":13},{"t":9300,"v":-10},{"t":9350,"v":13},{"t":9400,"v":-10},{"t":9450,"v":12},{"t":9500,"v":-12},{"t":9550,"v":-3},{"t":9600,"v":12},{"t":9650,"v":-12},{"t":9700,"v":7},{"t":9750,"v":-6},{"t":9800,"v":9},{"t":9850,"v":-7},{"t":9900,"v":4},{"t":9950,"v":18},
{"t":10000,"v":-13},{"t":10050,"v":-4},{"t":10100,"v":19},{"t":10150,"v":-12},{"t":10200,"v":13},{"t":10250,"v":-10},{"t":10300,"v":6},{"t":10350,"v":-5},{"t":10400,"v":7},{"t":10450,"v":-6},{"t":10500,"v":5},{"t":10550,"v":-7},{"t":10600,"v":6},{"t":10650,"v":-5},{"t":10700,"v":7},{"t":10750,"v":-6},{"t":10800,"v":-3},{"t":10850,"v":17},{"t":10900,"v":-15},{"t":10950,"v":6},
{"t":11000,"v":-5},{"t":11050,"v":3},{"t":11100,"v":13},{"t":11150,"v":-5},{"t":11200,"v":6},{"t":11250,"v":-9},{"t":11300,"v":7},{"t":11350,"v":-6},{"t":11400,"v":8},{"t":11450,"v":-7},{"t":11500,"v":13},{"t":11550,"v":-6},{"t":11600,"v":7},{"t":11650,"v":-5},{"t":11700,"v":-13},{"t":11750,"v":13},{"t":11800,"v":-6},{"t":11850,"v":7},{"t":11900,"v":-5},{"t":11950,"v":6},
{"t":12000,"v":-6},{"t":12050,"v":5},{"t":12100,"v":-4},{"t":12150,"v":13},{"t":12200,"v":-6},{"t":12250,"v":5},{"t":12300,"v":-10},{"t":12350,"v":6},{"t":12400,"v":-5},{"t":12450,"v":7},{"t":12500,"v":-6},{"t":12550,"v":5},{"t":12600,"v":-8},{"t":12650,"v":6},{"t":12700,"v":-10},{"t":12750,"v":7},{"t":12800,"v":-5},{"t":12850,"v":6},{"t":12900,"v":-4},{"t":12950,"v":5},
{"t":13000,"v":-6},{"t":13050,"v":5},{"t":13100,"v":-4},{"t":13150,"v":-3},{"t":13200,"v":13},{"t":13250,"v":-7},{"t":13300,"v":5},{"t":13350,"v":-6},{"t":13400,"v":7},{"t":13450,"v":-5},{"t":13500,"v":6},{"t":13550,"v":-7},{"t":13600,"v":-3},{"t":13650,"v":12},{"t":13700,"v":-9},{"t":13750,"v":6},{"t":13800,"v":-5},{"t":13850,"v":7},{"t":13900,"v":-6},{"t":13950,"v":5},
{"t":14000,"v":-5},{"t":14050,"v":13},{"t":14100,"v":-7},{"t":14150,"v":6},{"t":14200,"v":-5},{"t":14250,"v":7},{"t":14300,"v":-6},{"t":14350,"v":5},{"t":14400,"v":-7},{"t":14450,"v":6},{"t":14500,"v":-5},{"t":14550,"v":12},{"t":14600,"v":-6},{"t":14650,"v":5},{"t":14700,"v":-12},{"t":14750,"v":13},{"t":14800,"v":-6},{"t":14850,"v":5},{"t":14900,"v":-7},{"t":14950,"v":6},
{"t":15000,"v":-5},{"t":15050,"v":6},{"t":15100,"v":-4},{"t":15150,"v":7},{"t":15200,"v":-9},{"t":15250,"v":5},{"t":15300,"v":-6},{"t":15350,"v":7},{"t":15400,"v":-5},{"t":15450,"v":6},{"t":15500,"v":-7},{"t":15550,"v":5},{"t":15600,"v":-4},{"t":15650,"v":-3},{"t":15700,"v":12},{"t":15750,"v":-5},{"t":15800,"v":-6}]
},
"vconcat":[
{"width":1200,"height":118.5,"title":{"text":"N"},
 "encoding":{"x":{"field":"t","type":"quantitative","scale":{"domain":[-795,16600],"nice":false,"zero":false},"axis":{"values":[0,2000,4000,6000,8000,10000,12000,14000,16000],"labels":false,"domain":false,"grid":false,"tickSize":5,"tickColor":"black","tickWidth":1.1,"title":null}}},
 "layer":[
  {"data":{"name":"N"},"mark":{"type":"line","color":"black","strokeWidth":2.1,"strokeJoin":"round"},"encoding":{"y":{"field":"v","type":"quantitative","scale":{"domain":[-82,36],"nice":false,"zero":false},"axis":null}}},
  {"data":{"name":"picks"},"mark":{"type":"rule","color":"#00bfbf","strokeWidth":2.1,"strokeDash":[7.7,3.3]},"encoding":{}}
 ]},
{"width":1200,"height":118.5,"title":{"text":"E"},
 "encoding":{"x":{"field":"t","type":"quantitative","scale":{"domain":[-795,16600],"nice":false,"zero":false},"axis":{"values":[0,2000,4000,6000,8000,10000,12000,14000,16000],"labels":false,"domain":false,"grid":false,"tickSize":5,"tickColor":"black","tickWidth":1.1,"title":null}}},
 "layer":[
  {"data":{"name":"E"},"mark":{"type":"line","color":"black","strokeWidth":2.1,"strokeJoin":"round"},"encoding":{"y":{"field":"v","type":"quantitative","scale":{"domain":[-61,57],"nice":false,"zero":false},"axis":null}}},
  {"data":{"name":"picks"},"mark":{"type":"rule","color":"#00bfbf","strokeWidth":2.1,"strokeDash":[7.7,3.3]},"encoding":{}}
 ]},
{"width":1200,"height":118.5,"title":{"text":"Z"},
 "encoding":{"x":{"field":"t","type":"quantitative","scale":{"domain":[-795,16600],"nice":false,"zero":false},"axis":{"values":[0,2000,4000,6000,8000,10000,12000,14000,16000],"labels":false,"domain":false,"grid":false,"tickSize":5,"tickColor":"black","tickWidth":1.1,"title":null}}},
 "layer":[
  {"data":{"name":"Z"},"mark":{"type":"line","color":"black","strokeWidth":2.1,"strokeJoin":"round"},"encoding":{"y":{"field":"v","type":"quantitative","scale":{"domain":[-56,62],"nice":false,"zero":false},"axis":null}}},
  {"data":{"name":"picks"},"mark":{"type":"rule","color":"#00bfbf","strokeWidth":2.1,"strokeDash":[7.7,3.3]},"encoding":{}}
 ]},
{"width":1200,"height":118.5,"title":{"text":"R"},
 "encoding":{"x":{"field":"t","type":"quantitative","scale":{"domain":[-795,16600],"nice":false,"zero":false},"axis":{"values":[0,2000,4000,6000,8000,10000,12000,14000,16000],"labels":false,"domain":false,"grid":false,"tickSize":5,"tickColor":"black","tickWidth":1.1,"title":null}}},
 "layer":[
  {"data":{"name":"R"},"mark":{"type":"line","color":"black","strokeWidth":2.1,"strokeJoin":"round"},"encoding":{"y":{"field":"v","type":"quantitative","scale":{"domain":[-56,62],"nice":false,"zero":false},"axis":null}}},
  {"data":{"name":"picks"},"mark":{"type":"rule","color":"#00bfbf","strokeWidth":2.1,"strokeDash":[7.7,3.3]},"encoding":{}}
 ]},
{"width":1200,"height":118.5,"title":{"text":"T"},
 "encoding":{"x":{"field":"t","type":"quantitative","scale":{"domain":[-795,16600],"nice":false,"zero":false},"axis":{"values":[0,2000,4000,6000,8000,10000,12000,14000,16000],"labels":true,"format":"d","labelFontSize":13.9,"labelColor":"black","labelFont":"DejaVu Sans","labelPadding":4,"labelFlush":false,"domain":false,"grid":false,"tickSize":5,"tickColor":"black","tickWidth":1.1,"title":null}}},
 "layer":[
  {"data":{"name":"T"},"mark":{"type":"line","color":"black","strokeWidth":2.1,"strokeJoin":"round"},"encoding":{"y":{"field":"v","type":"quantitative","scale":{"domain":[-37,81],"nice":false,"zero":false},"axis":null}}},
  {"data":{"name":"picks"},"mark":{"type":"rule","color":"#00bfbf","strokeWidth":2.1,"strokeDash":[7.7,3.3]},"encoding":{}}
 ]}
]
}
